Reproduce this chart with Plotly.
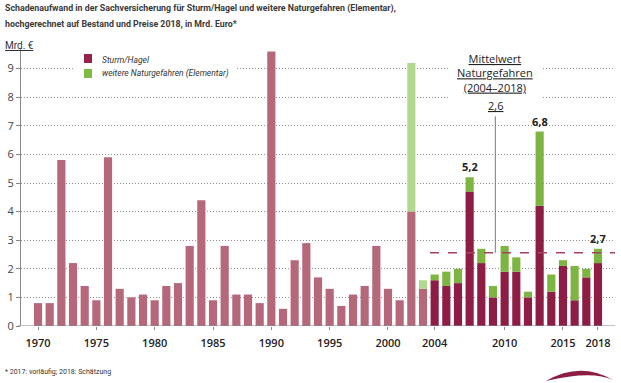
import plotly.graph_objects as go

# ---------------- data ----------------
years_old = list(range(1970, 2004))
storm_old = [0.8, 0.8, 5.8, 2.2, 1.4, 0.9, 5.9, 1.3, 1.0, 1.1,
             0.9, 1.4, 1.5, 2.8, 4.4, 0.9, 2.8, 1.1, 1.1, 0.8,
             9.6, 0.6, 2.3, 2.9, 1.7, 1.3, 0.7, 1.1, 1.4, 2.8,
             1.3, 0.9, 4.0, 1.3]
years_elem_old = [2002, 2003]
elem_old = [5.2, 0.3]

years_new = list(range(2004, 2019))
storm_new = [1.6, 1.4, 1.5, 4.7, 2.2, 1.0, 1.9, 1.9, 1.0, 4.2, 1.2, 2.1, 0.9, 1.7, 2.2]
elem_new = [0.2, 0.5, 0.5, 0.5, 0.5, 0.4, 0.9, 0.5, 0.2, 2.6, 0.6, 0.2, 1.2, 0.3, 0.5]

mean_value = 2.56
mean_label = "2,6"
value_labels = {2007: "5,2", 2013: "6,8", 2018: "2,7"}

x_tickvals = [1970, 1975, 1980, 1985, 1990, 1995, 2000, 2004, 2010, 2015, 2018]
y_tickvals = list(range(0, 10))

# ---------------- layout geometry ----------------
W, H = 621, 383
L, R, T, B = 21, 6, 49, 57
PW, PH = W - L - R, H - T - B
Y0PX = H - B


def px(x):
    return (x - L) / PW


def py(y):
    return (Y0PX - y) / PH


C_OLD = "#B6687B"
C_STORM = "#8E1D46"
C_ELEM = "#7DB542"
C_ELEM_OLD = "#B3D690"
TXT = "#333333"
FONT = "Open Sans"
NARROW = "Roboto"

fig = go.Figure()
fig.add_bar(x=years_old, y=storm_old, marker_color=C_OLD, marker_line_width=0, showlegend=False)
fig.add_bar(x=years_elem_old, y=elem_old, marker_color=C_ELEM_OLD, marker_line_width=0, showlegend=False,
            base=[storm_old[years_old.index(y)] for y in years_elem_old])
fig.add_bar(x=years_new, y=storm_new, marker_color=C_STORM, marker_line_width=0, showlegend=False)
fig.add_bar(x=years_new, y=elem_new, marker_color=C_ELEM, marker_line_width=0, showlegend=False,
            base=storm_new)

fig.update_layout(
    width=W, height=H,
    margin=dict(l=L, r=R, t=T, b=B, pad=0, autoexpand=False),
    paper_bgcolor="white", plot_bgcolor="white",
    barmode="overlay", bargap=0.3,
    font=dict(family=FONT, color=TXT, size=11),
    showlegend=False,
)
fig.update_xaxes(
    range=[1968.54, 2019.46], tickvals=x_tickvals, ticktext=[str(v) for v in x_tickvals],
    ticks="outside", ticklen=3, tickcolor="#888", showgrid=False, zeroline=False,
    showline=False, automargin=False, ticklabelstandoff=4,
    tickfont=dict(size=11, color="#222", family=FONT, weight=600),
)
fig.update_yaxes(
    range=[0, PH / 28.6], tickvals=y_tickvals, ticks="outside", ticklen=4, tickcolor="#888",
    showgrid=True, gridcolor="#8f8f8f", griddash="1px,2px", gridwidth=1,
    zeroline=False, showline=True, linecolor="#888", linewidth=1, automargin=False,
    tickfont=dict(size=11, color="#444", family=FONT),
)

shapes = []
# x-axis baseline
shapes.append(dict(type="line", xref="paper", yref="y", x0=-0.005, x1=1, y0=0, y1=0,
                   line=dict(color="#888", width=1.2)))
# mean dashed line
shapes.append(dict(type="line", xref="x", yref="y", x0=2003.6, x1=2019.46, y0=mean_value, y1=mean_value,
                   line=dict(color="#A8435F", width=1.6, dash="dash")))
# vertical pointer
shapes.append(dict(type="line", xref="x", yref="y", x0=2009.2, x1=2009.2, y0=mean_value, y1=7.33,
                   line=dict(color="#777", width=1)))
# legend background + squares
shapes.append(dict(type="rect", xref="paper", yref="paper", x0=px(74), x1=px(236), y0=py(52), y1=py(81),
                   fillcolor="white", line_width=0, layer="above"))
shapes.append(dict(type="rect", xref="paper", yref="paper", x0=px(84), x1=px(92), y0=py(54), y1=py(63),
                   fillcolor="#962249", line_width=0, layer="above"))
shapes.append(dict(type="rect", xref="paper", yref="paper", x0=px(84), x1=px(92), y0=py(69), y1=py(78),
                   fillcolor="#7DBB42", line_width=0, layer="above"))
# Mittelwert label background
shapes.append(dict(type="rect", xref="paper", yref="paper", x0=px(448), x1=px(542), y0=py(50), y1=py(114),
                   fillcolor="white", line_width=0, layer="above"))
# logo swoosh
logo = [(546, 381), (580, 361), (613, 380), (592, 370), (546, 381)]
path = "M {:.4f} {:.4f} Q {:.4f} {:.4f} {:.4f} {:.4f} Q {:.4f} {:.4f} {:.4f} {:.4f} Z".format(
    px(logo[0][0]), py(logo[0][1]), px(logo[1][0]), py(logo[1][1]), px(logo[2][0]), py(logo[2][1]),
    px(logo[3][0]), py(logo[3][1]), px(logo[4][0]), py(logo[4][1]))
shapes.append(dict(type="path", xref="paper", yref="paper", path=path, fillcolor="#8E1D46",
                   line=dict(width=0), layer="above"))
fig.update_layout(shapes=shapes)

ann = []
ann.append(dict(xref="paper", yref="paper", x=px(3), y=py(9), xanchor="left", yanchor="middle",
                text="<b>Schadenaufwand in der Sachversicherung für Sturm/Hagel und weitere Naturgefahren (Elementar),</b>",
                showarrow=False, font=dict(size=8.8, color="#3a3a3a", family=NARROW)))
ann.append(dict(xref="paper", yref="paper", x=px(3), y=py(24), xanchor="left", yanchor="middle",
                text="<b>hochgerechnet auf Bestand und Preise 2018, in Mrd. Euro*</b>",
                showarrow=False, font=dict(size=8.8, color="#3a3a3a", family=NARROW)))
ann.append(dict(xref="paper", yref="paper", x=px(3), y=py(45), xanchor="left", yanchor="middle",
                text="<u>Mrd. €</u>", showarrow=False, font=dict(size=10, color=TXT, family=NARROW)))
ann.append(dict(xref="paper", yref="paper", x=px(100), y=py(60), xanchor="left", yanchor="middle",
                text="<i>Sturm/Hagel</i>", showarrow=False, font=dict(size=8.5, color=TXT, family=NARROW)))
ann.append(dict(xref="paper", yref="paper", x=px(100), y=py(74), xanchor="left", yanchor="middle",
                text="<i>weitere Naturgefahren (Elementar)</i>", showarrow=False,
                font=dict(size=8.5, color=TXT, family=NARROW)))
ann.append(dict(xref="x", yref="paper", x=2009.2, y=py(73), xanchor="center", yanchor="middle",
                text="<u>Mittelwert</u><br><u>Naturgefahren</u><br><u>(2004–2018)</u>",
                showarrow=False, font=dict(size=11, color="#222")))
ann.append(dict(xref="x", yref="paper", x=2009.2, y=py(105), xanchor="center", yanchor="middle",
                text="<u>" + mean_label + "</u>", showarrow=False, font=dict(size=11, color="#222")))
for yr, lab in value_labels.items():
    i = years_new.index(yr)
    ann.append(dict(xref="x", yref="y", x=yr, y=storm_new[i] + elem_new[i], yanchor="bottom", yshift=1,
                    text="<b>" + lab + "</b>", showarrow=False, font=dict(size=11, color="#222")))
ann.append(dict(xref="paper", yref="paper", x=px(3), y=py(372), xanchor="left", yanchor="middle",
                text="* 2017: vorläufig; 2018: Schätzung", showarrow=False,
                font=dict(size=7, color=TXT, family=NARROW)))
fig.update_layout(annotations=ann)

fig.write_html("out.html", config={"displayModeBar": False},
               post_script="document.body.style.margin='0px';")
